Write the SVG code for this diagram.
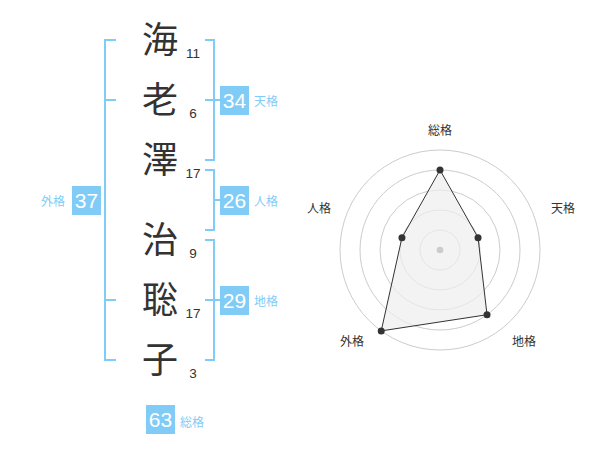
<svg xmlns="http://www.w3.org/2000/svg" width="600" height="470" viewBox="0 0 600 470">
<style>
.k{font-family:"Noto Sans CJK JP","Noto Sans CJK SC",sans-serif;font-size:36px;fill:#333;text-anchor:middle}
.n{font-family:"Liberation Sans",Arial,sans-serif;font-size:13.5px;fill:#333;text-anchor:middle}
.br{fill:none;stroke:#80ccf7;stroke-width:2}
.box{fill:#80ccf7}
.bv{font-family:"Liberation Sans",Arial,sans-serif;font-size:21px;fill:#fff;text-anchor:middle}
.bl{font-family:"Noto Sans CJK JP","Noto Sans CJK SC",sans-serif;font-size:12px;fill:#80ccf7}
.ring{fill:none;stroke:#ccc;stroke-width:1}
.rl{font-family:"Noto Sans CJK JP","Noto Sans CJK SC",sans-serif;font-size:12px;fill:#333;text-anchor:middle}
</style>
<rect width="600" height="470" fill="#fff"/>
<g id="connectors">
<path class="br" d="M116,40 H105 V360 H116 M105,100 H116 M105,300 H116"/>
<path class="br" d="M205,40 H214 V160 H205 M205,100 H220"/>
<path class="br" d="M205,170 H214 V230 H205 M214,200 H220"/>
<path class="br" d="M205,240 H214 V360 H205 M205,300 H220"/>
</g>
<g id="name">
<text class="k" x="160" y="53">海</text>
<text class="k" x="160" y="113">老</text>
<text class="k" x="160" y="173">澤</text>
<text class="k" x="160" y="253">治</text>
<text class="k" x="160" y="313">聡</text>
<text class="k" x="160" y="373">子</text>
<text class="n" x="193" y="58">11</text>
<text class="n" x="193" y="118">6</text>
<text class="n" x="193" y="178">17</text>
<text class="n" x="193" y="258">9</text>
<text class="n" x="193" y="318">17</text>
<text class="n" x="193" y="378">3</text>
</g>
<g id="tenkaku">
<rect class="box" x="220" y="86" width="29" height="29"/>
<text class="bv" x="234.5" y="108">34</text>
<text class="bl" x="254" y="106">天格</text>
</g>
<g id="jinkaku">
<rect class="box" x="220" y="186" width="29" height="29"/>
<text class="bv" x="234.5" y="208">26</text>
<text class="bl" x="254" y="206">人格</text>
</g>
<g id="chikaku">
<rect class="box" x="220" y="286" width="29" height="29"/>
<text class="bv" x="234.5" y="308">29</text>
<text class="bl" x="254" y="306">地格</text>
</g>
<g id="gaikaku">
<rect class="box" x="72" y="186" width="29" height="29"/>
<text class="bv" x="86.5" y="208">37</text>
<text class="bl" x="41" y="206">外格</text>
</g>
<g id="soukaku">
<rect class="box" x="146" y="405" width="29" height="29"/>
<text class="bv" x="160.5" y="427">63</text>
<text class="bl" x="180" y="427">総格</text>
</g>
<g id="radar">
<circle class="ring" cx="440" cy="250" r="20"/>
<circle class="ring" cx="440" cy="250" r="40"/>
<circle class="ring" cx="440" cy="250" r="60"/>
<circle class="ring" cx="440" cy="250" r="80"/>
<circle class="ring" cx="440" cy="250" r="100"/>
<polygon points="440,170 478.04,237.64 487.02,314.72 381.22,330.9 401.96,237.64" fill="#eee" fill-opacity="0.7" stroke="#333" stroke-width="1"/>
<circle cx="440" cy="250" r="3.3" fill="#ccc"/>
<g fill="#333">
<circle cx="440" cy="170" r="3.5"/>
<circle cx="478.04" cy="237.64" r="3.5"/>
<circle cx="487.02" cy="314.72" r="3.5"/>
<circle cx="381.22" cy="330.9" r="3.5"/>
<circle cx="401.96" cy="237.64" r="3.5"/>
</g>
<text class="rl" x="440" y="135">総格</text>
<text class="rl" x="563" y="213">天格</text>
<text class="rl" x="524" y="346">地格</text>
<text class="rl" x="352" y="346">外格</text>
<text class="rl" x="319" y="213">人格</text>
</g>
</svg>
